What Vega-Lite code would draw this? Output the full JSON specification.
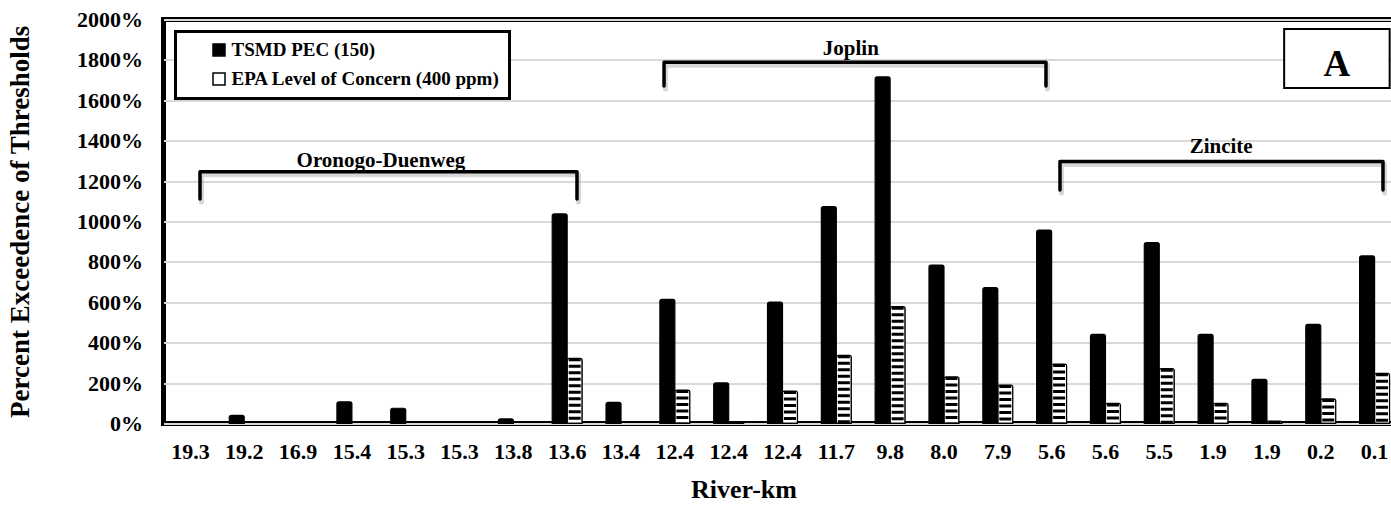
{
  "$schema": "https://vega.github.io/schema/vega-lite/v6.json",
  "width": 1238,
  "height": 404,
  "autosize": {"type": "none"},
  "padding": {"left": 163.5, "top": 19.4, "right": -10.5, "bottom": 81.6},
  "background": "white",
  "config": {
    "view": {"stroke": "black", "strokeWidth": 5},
    "font": "Liberation Serif",
    "text": {"font": "Liberation Serif", "fontWeight": "bold"},
    "legend": {"strokeWidth": 3}
  },
  "datasets": {
    "bars": [
      {"idx": 0, "series": "TSMD PEC (150)", "value": 0},
      {"idx": 1, "series": "TSMD PEC (150)", "value": 40},
      {"idx": 2, "series": "TSMD PEC (150)", "value": 0},
      {"idx": 3, "series": "TSMD PEC (150)", "value": 107},
      {"idx": 4, "series": "TSMD PEC (150)", "value": 75},
      {"idx": 5, "series": "TSMD PEC (150)", "value": 0},
      {"idx": 6, "series": "TSMD PEC (150)", "value": 22},
      {"idx": 7, "series": "TSMD PEC (150)", "value": 1037},
      {"idx": 8, "series": "TSMD PEC (150)", "value": 104},
      {"idx": 9, "series": "TSMD PEC (150)", "value": 614},
      {"idx": 10, "series": "TSMD PEC (150)", "value": 201},
      {"idx": 11, "series": "TSMD PEC (150)", "value": 601},
      {"idx": 12, "series": "TSMD PEC (150)", "value": 1073},
      {"idx": 13, "series": "TSMD PEC (150)", "value": 1716},
      {"idx": 14, "series": "TSMD PEC (150)", "value": 784},
      {"idx": 15, "series": "TSMD PEC (150)", "value": 672},
      {"idx": 16, "series": "TSMD PEC (150)", "value": 957},
      {"idx": 17, "series": "TSMD PEC (150)", "value": 441},
      {"idx": 18, "series": "TSMD PEC (150)", "value": 895},
      {"idx": 19, "series": "TSMD PEC (150)", "value": 441},
      {"idx": 20, "series": "TSMD PEC (150)", "value": 218},
      {"idx": 21, "series": "TSMD PEC (150)", "value": 490},
      {"idx": 22, "series": "TSMD PEC (150)", "value": 829},
      {"idx": 0, "series": "EPA Level of Concern (400 ppm)", "value": 0},
      {"idx": 1, "series": "EPA Level of Concern (400 ppm)", "value": 0},
      {"idx": 2, "series": "EPA Level of Concern (400 ppm)", "value": 0},
      {"idx": 3, "series": "EPA Level of Concern (400 ppm)", "value": 0},
      {"idx": 4, "series": "EPA Level of Concern (400 ppm)", "value": 0},
      {"idx": 5, "series": "EPA Level of Concern (400 ppm)", "value": 0},
      {"idx": 6, "series": "EPA Level of Concern (400 ppm)", "value": 0},
      {"idx": 7, "series": "EPA Level of Concern (400 ppm)", "value": 322},
      {"idx": 8, "series": "EPA Level of Concern (400 ppm)", "value": 0},
      {"idx": 9, "series": "EPA Level of Concern (400 ppm)", "value": 165},
      {"idx": 10, "series": "EPA Level of Concern (400 ppm)", "value": 5},
      {"idx": 11, "series": "EPA Level of Concern (400 ppm)", "value": 160},
      {"idx": 12, "series": "EPA Level of Concern (400 ppm)", "value": 337},
      {"idx": 13, "series": "EPA Level of Concern (400 ppm)", "value": 578},
      {"idx": 14, "series": "EPA Level of Concern (400 ppm)", "value": 230},
      {"idx": 15, "series": "EPA Level of Concern (400 ppm)", "value": 190},
      {"idx": 16, "series": "EPA Level of Concern (400 ppm)", "value": 294},
      {"idx": 17, "series": "EPA Level of Concern (400 ppm)", "value": 99},
      {"idx": 18, "series": "EPA Level of Concern (400 ppm)", "value": 271},
      {"idx": 19, "series": "EPA Level of Concern (400 ppm)", "value": 99},
      {"idx": 20, "series": "EPA Level of Concern (400 ppm)", "value": 12},
      {"idx": 21, "series": "EPA Level of Concern (400 ppm)", "value": 121},
      {"idx": 22, "series": "EPA Level of Concern (400 ppm)", "value": 248}
    ],
    "brackets": [
      {"group": "Oronogo-Duenweg", "pt": 0, "bx": 0.678, "by": 1111},
      {"group": "Oronogo-Duenweg", "pt": 1, "bx": 0.678, "by": 1246},
      {"group": "Oronogo-Duenweg", "pt": 2, "bx": 7.682, "by": 1246},
      {"group": "Oronogo-Duenweg", "pt": 3, "bx": 7.682, "by": 1111},
      {"group": "Joplin", "pt": 0, "bx": 9.299, "by": 1670},
      {"group": "Joplin", "pt": 1, "bx": 9.299, "by": 1788},
      {"group": "Joplin", "pt": 2, "bx": 16.395, "by": 1788},
      {"group": "Joplin", "pt": 3, "bx": 16.395, "by": 1670},
      {"group": "Zincite", "pt": 0, "bx": 16.655, "by": 1155},
      {"group": "Zincite", "pt": 1, "bx": 16.655, "by": 1296},
      {"group": "Zincite", "pt": 2, "bx": 22.656, "by": 1296},
      {"group": "Zincite", "pt": 3, "bx": 22.656, "by": 1155}
    ],
    "groupLabels": [
      {"label": "Oronogo-Duenweg", "bx": 4.04, "by": 1268},
      {"label": "Joplin", "bx": 12.77, "by": 1824},
      {"label": "Zincite", "bx": 19.65, "by": 1340}
    ],
    "panel": [
      {"label": "A", "x1": 20.82, "x2": 22.78, "y1": 1952, "y2": 1660, "bx": 21.8, "by": 1720}
    ]
  },
  "layer": [
    {
      "data": {"name": "brackets"},
      "mark": {"type": "line", "color": "#8c8c8c", "opacity": 0.35, "strokeWidth": 5, "strokeJoin": "round", "strokeCap": "round"},
      "encoding": {
        "x": {"field": "bx", "type": "quantitative", "scale": {"domain": [0, 23], "nice": false, "zero": false}, "axis": null},
        "y": {"field": "by", "type": "quantitative", "scale": {"domain": [0, 2000], "nice": false}},
        "xOffset": {"value": 1.5},
        "yOffset": {"value": 3},
        "detail": {"field": "group"},
        "order": {"field": "pt"}
      }
    },
    {
      "data": {"name": "bars"},
      "transform": [{"filter": "datum.value > 0"}],
      "mark": {"type": "bar", "stroke": "black", "strokeWidth": 1.2, "cornerRadiusTopLeft": 2, "cornerRadiusTopRight": 2},
      "encoding": {
        "x": {
          "field": "idx", "type": "ordinal",
          "scale": {"domain": [0,1,2,3,4,5,6,7,8,9,10,11,12,13,14,15,16,17,18,19,20,21,22], "paddingInner": 0.443, "paddingOuter": 0.2215},
          "axis": {
            "labelExpr": "['19.3','19.2','16.9','15.4','15.3','15.3','13.8','13.6','13.4','12.4','12.4','12.4','11.7','9.8','8.0','7.9','5.6','5.6','5.5','1.9','1.9','0.2','0.1'][datum.value]",
            "labelAngle": 0, "labelFont": "Liberation Serif", "labelFontSize": 22, "labelFontWeight": "bold", "labelColor": "black",
            "labelPadding": 18, "ticks": false, "tickSize": 0, "domain": false, "grid": false,
            "title": "River-km", "titleFont": "Liberation Serif", "titleFontSize": 26, "titleFontWeight": "bold", "titleColor": "black",
            "titlePadding": 14, "titleX": 580
          }
        },
        "xOffset": {
          "field": "series", "type": "nominal",
          "scale": {"domain": ["TSMD PEC (150)", "EPA Level of Concern (400 ppm)"], "paddingInner": 0, "paddingOuter": 0}
        },
        "y": {
          "field": "value", "type": "quantitative",
          "scale": {"domain": [0, 2000], "nice": false},
          "axis": {
            "values": [0, 200, 400, 600, 800, 1000, 1200, 1400, 1600, 1800, 2000],
            "labelExpr": "datum.value + '%'",
            "labelFont": "Liberation Serif", "labelFontSize": 22, "labelFontWeight": "bold", "labelColor": "black",
            "labelPadding": 21, "ticks": false, "tickSize": 0, "domain": false,
            "grid": true, "gridColor": "#d9d9d9", "gridWidth": 2,
            "title": "Percent Exceedence of Thresholds", "titleFont": "Liberation Serif", "titleFontSize": 27, "titleFontWeight": "bold", "titleColor": "black",
            "titlePadding": 42
          }
        },
        "fill": {
          "field": "series", "type": "nominal",
          "scale": {"domain": ["TSMD PEC (150)", "EPA Level of Concern (400 ppm)"], "range": ["black", "white"]},
          "legend": {
            "title": null, "orient": "top-left", "offset": 12, "padding": 9,
            "strokeColor": "black", "fillColor": "white",
            "symbolType": "square", "symbolSize": 144, "symbolStrokeColor": "black", "symbolStrokeWidth": 1.5, "symbolOffset": 25,
            "labelFont": "Liberation Serif", "labelFontSize": 19, "labelFontWeight": "bold", "labelColor": "black",
            "labelOffset": 3, "rowPadding": 9, "labelLimit": 400
          }
        }
      }
    },
    {
      "data": {"name": "bars"},
      "transform": [{"filter": "datum.series === 'EPA Level of Concern (400 ppm)' && datum.value > 0"}],
      "mark": {"type": "rule", "color": "black", "strokeWidth": 12, "strokeDash": [3, 3.5], "strokeCap": "butt"},
      "encoding": {
        "x": {"field": "idx", "type": "ordinal", "scale": {"domain": [0,1,2,3,4,5,6,7,8,9,10,11,12,13,14,15,16,17,18,19,20,21,22], "paddingInner": 0.443, "paddingOuter": 0.2215}, "axis": null},
        "xOffset": {
          "field": "series", "type": "nominal",
          "scale": {"domain": ["TSMD PEC (150)", "EPA Level of Concern (400 ppm)"], "paddingInner": 0, "paddingOuter": 0}
        },
        "y": {"field": "value", "type": "quantitative", "scale": {"domain": [0, 2000], "nice": false}},
        "y2": {"datum": 0}
      }
    },
    {
      "data": {"name": "brackets"},
      "mark": {"type": "line", "color": "black", "strokeWidth": 3.5, "strokeJoin": "round", "strokeCap": "round"},
      "encoding": {
        "x": {"field": "bx", "type": "quantitative", "scale": {"domain": [0, 23], "nice": false, "zero": false}, "axis": null},
        "y": {"field": "by", "type": "quantitative", "scale": {"domain": [0, 2000], "nice": false}},
        "detail": {"field": "group"},
        "order": {"field": "pt"}
      }
    },
    {
      "data": {"name": "groupLabels"},
      "mark": {"type": "text", "font": "Liberation Serif", "fontWeight": "bold", "fontSize": 21, "color": "black", "baseline": "alphabetic", "align": "center"},
      "encoding": {
        "x": {"field": "bx", "type": "quantitative", "scale": {"domain": [0, 23], "nice": false, "zero": false}, "axis": null},
        "y": {"field": "by", "type": "quantitative", "scale": {"domain": [0, 2000], "nice": false}},
        "text": {"field": "label"}
      }
    },
    {
      "data": {"name": "panel"},
      "mark": {"type": "rect", "fill": "white", "stroke": "black", "strokeWidth": 2},
      "encoding": {
        "x": {"field": "x1", "type": "quantitative", "scale": {"domain": [0, 23], "nice": false, "zero": false}, "axis": null},
        "x2": {"field": "x2"},
        "y": {"field": "y1", "type": "quantitative", "scale": {"domain": [0, 2000], "nice": false}},
        "y2": {"field": "y2"}
      }
    },
    {
      "data": {"name": "panel"},
      "mark": {"type": "text", "font": "Liberation Serif", "fontWeight": "bold", "fontSize": 37, "color": "black", "baseline": "alphabetic", "align": "center"},
      "encoding": {
        "x": {"field": "bx", "type": "quantitative", "scale": {"domain": [0, 23], "nice": false, "zero": false}, "axis": null},
        "y": {"field": "by", "type": "quantitative", "scale": {"domain": [0, 2000], "nice": false}},
        "text": {"field": "label"}
      }
    }
  ],
  "resolve": {"scale": {"x": "independent"}}
}
